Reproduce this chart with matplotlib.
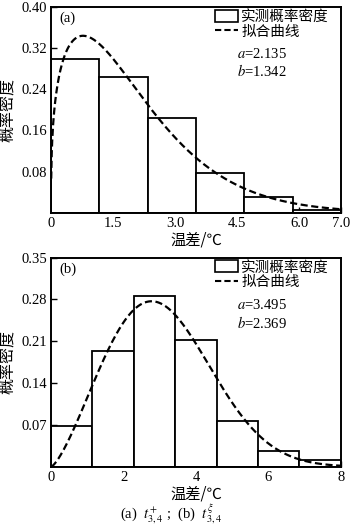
import numpy as np
import matplotlib
matplotlib.use("Agg")
import matplotlib.pyplot as plt
from matplotlib.patches import Patch
from matplotlib.lines import Line2D

# Panel (a): histogram of measured density and fitted Weibull parameters
a_edges_max = 7.0
a_nbins = 6
a_density = [0.299, 0.263, 0.185, 0.078, 0.030, 0.006]
a_scale, a_shape = 2.135, 1.342
a_xticks = [0, 1.5, 3.0, 4.5, 6.0, 7.0]
a_xticklabels = ["0", "1.5", "3.0", "4.5", "6.0", "7.0"]
a_yticks = [0.08, 0.16, 0.24, 0.32, 0.40]
a_yticklabels = ["0.08", "0.16", "0.24", "0.32", "0.40"]

# Panel (b)
b_edges_max = 8.0
b_nbins = 7
b_density = [0.068, 0.194, 0.285, 0.213, 0.076, 0.026, 0.011]
b_scale, b_shape = 3.495, 2.369
b_xticks = [0, 2, 4, 6, 8]
b_xticklabels = ["0", "2", "4", "6", "8"]
b_yticks = [0.07, 0.14, 0.21, 0.28, 0.35]
b_yticklabels = ["0.07", "0.14", "0.21", "0.28", "0.35"]

CJK = ["Noto Sans CJK SC", "DejaVu Sans"]
SERIF = ["Liberation Serif", "DejaVu Serif"]
plt.rcParams["font.family"] = SERIF
plt.rcParams["mathtext.fontset"] = "stix"


def weibull_pdf(x, scale, shape):
    z = x / scale
    return shape / scale * z ** (shape - 1) * np.exp(-z ** shape)


fig = plt.figure(figsize=(3.5, 5.28), dpi=100)


def draw_panel(rect, density, xmax, nbins, scale, shape, xticks, xtl, yticks, ytl,
               ymax, tag, x0):
    ax = fig.add_axes(rect)
    edges = np.linspace(0, xmax, nbins + 1)
    ax.bar(edges[:-1], density, width=np.diff(edges), align="edge",
           facecolor="white", edgecolor="black", linewidth=1.3, zorder=2)
    x = np.linspace(x0, xmax, 600)
    ax.plot(x, weibull_pdf(x, scale, shape), color="black", lw=1.6,
            ls=(0, (3.2, 1.6)), zorder=3)
    ax.set_xlim(0, xmax)
    ax.set_ylim(0, ymax)
    ax.set_xticks(xticks)
    ax.set_xticklabels(xtl, fontsize=10.5)
    ax.set_yticks(yticks)
    ax.set_yticklabels(ytl, fontsize=10.5)
    ax.tick_params(direction="in", length=4, width=1, pad=3)
    for s in ax.spines.values():
        s.set_linewidth(1.4)
    ax.set_ylabel("概率密度", family=CJK, fontsize=11.5, labelpad=3)
    ax.set_xlabel("温差/℃", family=CJK, fontsize=11, labelpad=1)
    ax.text(0.03, 0.975, tag, transform=ax.transAxes, ha="left", va="top",
            fontsize=10.5)
    handles = [Patch(facecolor="white", edgecolor="black", linewidth=1.2),
               Line2D([], [], color="black", lw=1.5, ls=(0, (3, 1.5)))]
    ax.legend(handles, ["实测概率密度", "拟合曲线"], loc="upper left",
              bbox_to_anchor=(0.545, 1.015), frameon=False,
              prop={"family": CJK, "size": 10.5}, handlelength=1.6,
              handleheight=0.9, handletextpad=0.2, borderaxespad=0.0,
              labelspacing=0.05)
    ax.text(0.64, 0.805, f"$a$={scale:.3f}", transform=ax.transAxes,
            ha="left", va="top", fontsize=10.5)
    ax.text(0.64, 0.725, f"$b$={shape:.3f}", transform=ax.transAxes,
            ha="left", va="top", fontsize=10.5)
    return ax


draw_panel([0.146, 0.597, 0.828, 0.390], a_density, a_edges_max, a_nbins,
           a_scale, a_shape, a_xticks, a_xticklabels, a_yticks, a_yticklabels,
           0.40, "(a)", 0.003)
draw_panel([0.146, 0.116, 0.828, 0.396], b_density, b_edges_max, b_nbins,
           b_scale, b_shape, b_xticks, b_xticklabels, b_yticks, b_yticklabels,
           0.35, "(b)", 0.0)

fig.text(0.49, 0.004, r"(a)  $t^{+}_{3,4}$ ;  (b)  $t^{\xi}_{3,4}$",
         ha="center", va="bottom", fontsize=10.5)

fig.savefig("out.png", dpi=100)
